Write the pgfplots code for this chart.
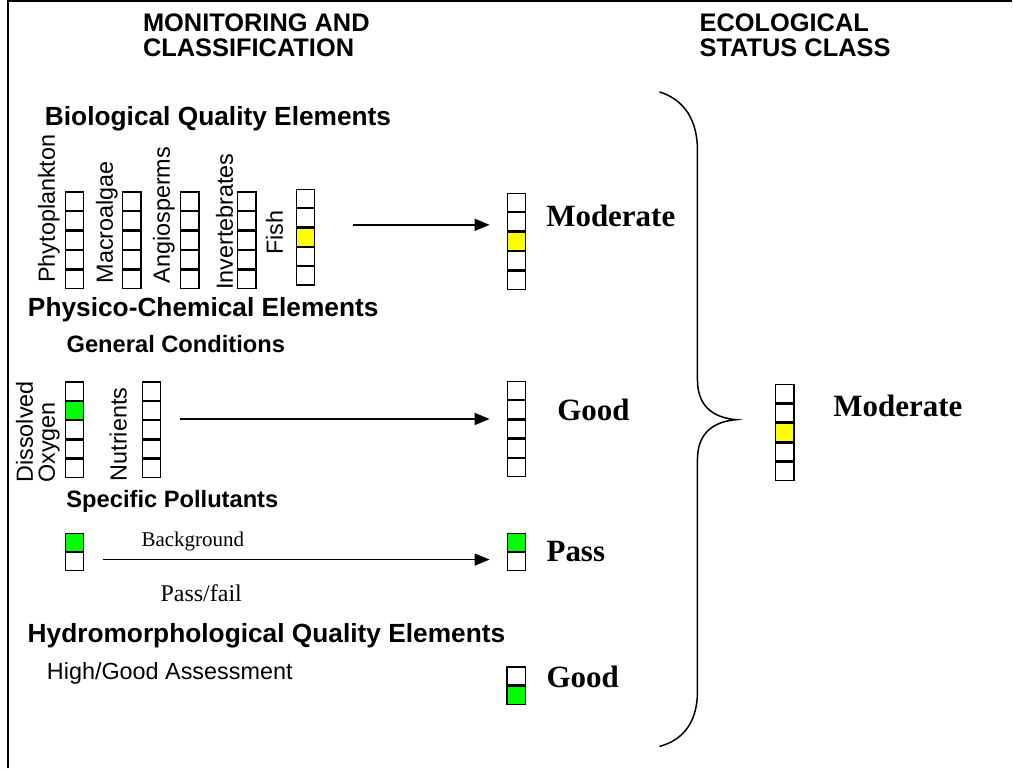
\documentclass[border=0pt]{standalone}
\usepackage{pgfplots}
\pgfplotsset{compat=1.18}
\usepackage{pgfplotstable}
\usetikzlibrary{arrows.meta}
\usepackage{fontspec}
\setmainfont{Liberation Sans}
\newfontfamily\timesfont{Liberation Serif}
\definecolor{boxyellow}{RGB}{255,255,0}
\definecolor{boxgreen}{RGB}{0,255,0}
\newcommand{\hd}{\bfseries\fontsize{26.3}{23}\selectfont}
\newcommand{\tophd}{\bfseries\fontsize{25.4}{25}\selectfont}
\newcommand{\sh}{\bfseries\fontsize{23.7}{26}\selectfont}
\newcommand{\rl}{\fontsize{23.4}{26}\selectfont}
\newcommand{\tb}{\timesfont\bfseries\fontsize{31}{34}\selectfont}
\tikzset{lab/.style={inner sep=0pt, outer sep=0pt, anchor=base west}}

% box centres (x, y) -- white boxes
\pgfplotstableread{
x y
74.5 201.4
74.5 220.9
74.5 240.4
74.5 259.8
74.5 279.3
132 201.4
132 220.9
132 240.4
132 259.8
132 279.3
190 201.4
190 220.9
190 240.4
190 259.8
190 279.3
247 201.4
247 220.9
247 240.4
247 259.8
247 279.3
305.5 198.7
305.5 218.0
305.5 256.7
305.5 276.0
516.7 202.7
516.7 222.1
516.7 260.9
516.7 280.3
74.7 391.4
74.7 430.0
74.7 449.3
74.7 468.6
151.7 391.4
151.7 410.7
151.7 430.0
151.7 449.3
151.7 468.6
516.7 390.7
516.7 410.0
516.7 429.3
516.7 448.7
516.7 468.0
74.7 562.0
516.7 562.0
516.5 676.5
785.5 393.8
785.5 413.3
785.5 452.4
785.5 471.9
}\whiteboxes
\pgfplotstableread{
x y
305.5 237.4
516.7 241.5
785.5 432.8
}\yellowboxes
\pgfplotstableread{
x y
74.7 410.7
74.7 542.7
516.7 542.7
516.5 696.2
}\greenboxes

\begin{document}
\begin{tikzpicture}
\begin{axis}[
  width=1013pt, height=769pt, scale only axis,
  xmin=0, xmax=1013, ymin=0, ymax=769, y dir=reverse,
  hide axis, clip=false,
]
\addplot[draw=none, forget plot] coordinates {(0,0) (1013,769)};
% frame
\addplot[black, line width=1.6pt] coordinates {(8,769) (8,1.2) (1013,1.2)};
% arrows
\addplot[black, line width=1.5pt, -{Triangle[length=15pt,width=12pt]}] coordinates {(353,225) (490,225)};
\addplot[black, line width=1.5pt, -{Triangle[length=15pt,width=12pt]}] coordinates {(180,419.3) (490,419.3)};
\addplot[black, line width=1.5pt, -{Triangle[length=15pt,width=12pt]}] coordinates {(103,560) (490,560)};
% brace
\draw[black, line width=1.5pt] (axis cs:660,92) .. controls (axis cs:686,100) and (axis cs:698,122) .. (axis cs:698,150)
  -- (axis cs:698,380) .. controls (axis cs:698,405) and (axis cs:712,418) .. (axis cs:737,420)
  .. controls (axis cs:712,422) and (axis cs:698,435) .. (axis cs:698,460)
  -- (axis cs:698,692) .. controls (axis cs:698,720) and (axis cs:686,740) .. (axis cs:660,747);
% boxes
\addplot[only marks, mark=square*, mark size=9.1pt, mark options={fill=white, draw=black, line width=1.3pt}] table[x=x,y=y] {\whiteboxes};
\addplot[only marks, mark=square*, mark size=9.1pt, mark options={fill=boxyellow, draw=black, line width=1.3pt}] table[x=x,y=y] {\yellowboxes};
\addplot[only marks, mark=square*, mark size=9.1pt, mark options={fill=boxgreen, draw=black, line width=1.3pt}] table[x=x,y=y] {\greenboxes};
% headings
\node[inner sep=0pt, anchor=north west, align=left, font=\tophd] at (axis cs:143,14) {MONITORING AND\\CLASSIFICATION};
\node[inner sep=0pt, anchor=north west, align=left, font=\tophd] at (axis cs:700,14) {ECOLOGICAL\\STATUS CLASS};
\node[lab] at (axis cs:45,126) {\hd Biological Quality Elements};
\node[lab] at (axis cs:28,317) {\hd Physico-Chemical Elements};
\node[lab] at (axis cs:66.7,353) {\sh General Conditions};
\node[lab] at (axis cs:66.5,508) {\sh Specific Pollutants};
\node[lab] at (axis cs:27.7,643) {\hd Hydromorphological Quality Elements};
\node[lab] at (axis cs:47,680) {\rl High/Good Assessment};
% rotated labels
\node[lab, rotate=90] at (axis cs:55,283) {\rl Phytoplankton};
\node[lab, rotate=90] at (axis cs:113,283.5) {\rl Macroalgae};
\node[lab, rotate=90] at (axis cs:170,283.5) {\rl Angiosperms};
\node[lab, rotate=90] at (axis cs:233,290) {\rl Invertebrates};
\node[lab, rotate=90] at (axis cs:283,255) {\rl Fish};
\node[lab, rotate=90] at (axis cs:33,483) {\rl Dissolved};
\node[lab, rotate=90] at (axis cs:55,483) {\rl Oxygen};
\node[lab, rotate=90] at (axis cs:126.7,481.7) {\rl Nutrients};
% status labels
\node[lab] at (axis cs:546.7,226.7) {\tb Moderate};
\node[lab] at (axis cs:557.7,421) {\tb Good};
\node[lab] at (axis cs:547,561.7) {\tb Pass};
\node[lab] at (axis cs:547,688) {\tb Good};
\node[lab] at (axis cs:834,417.3) {\tb Moderate};
\node[lab] at (axis cs:141.7,547) {\timesfont\fontsize{21}{24}\selectfont Background};
\node[lab] at (axis cs:160.7,602) {\timesfont\fontsize{24}{26}\selectfont Pass/fail};
\end{axis}
\end{tikzpicture}
\end{document}
